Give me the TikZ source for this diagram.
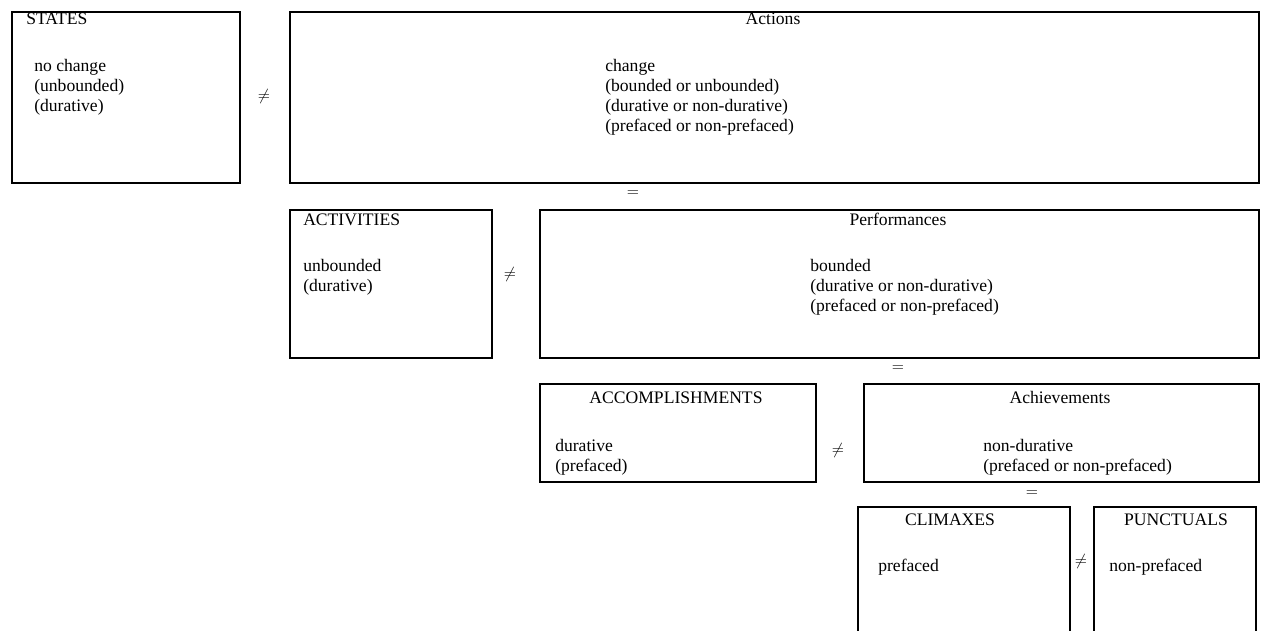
\documentclass[tikz,border=0pt]{standalone}
\usepackage{fontspec}
\setmainfont{Liberation Serif}
\usetikzlibrary{positioning}

\begin{document}
\begin{tikzpicture}[x=0.75pt, y=-0.75pt,
		box/.style={draw, line width=1.3pt, anchor=north west, inner sep=0pt},
		txt/.style={inner sep=0pt, anchor=base west, font=\fontsize{13.2}{15}\selectfont},
		lines/.style={inner sep=0pt, anchor=north west, align=left, font=\fontsize{13.2}{15}\selectfont},
		ttl/.style={inner sep=0pt, anchor=base, font=\fontsize{13.2}{15}\selectfont},
		rel/.style={inner sep=0pt, font=\fontsize{13.2}{15}\selectfont}]
		\clip (0, 0) rectangle (1264, 631);

		% boxes
		\node[box, minimum width=171pt, minimum height=128.25pt] (states) at (11, 11) {};
		\node[box, minimum width=726.75pt, minimum height=128.25pt] (actions) at (289, 11) {};
		\node[box, minimum width=151.5pt, minimum height=111pt] (activities) at (289, 209) {};
		\node[box, minimum width=539.25pt, minimum height=111pt] (performances) at (539, 209) {};
		\node[box, minimum width=207pt, minimum height=73.5pt] (accomplishments) at (539, 383) {};
		\node[box, minimum width=296.25pt, minimum height=73.5pt] (achievements) at (863, 383) {};
		\node[box, minimum width=159pt, minimum height=105pt] (climaxes) at (857, 506) {};
		\node[box, minimum width=121.5pt, minimum height=105pt] (punctuals) at (1093, 506) {};

		% titles
		\node[txt] (statesT) at (26, 25) {STATES};
		\node[ttl] (actionsT) at (773, 25) {Actions};
		\node[txt] (activitiesT) at (303, 226) {ACTIVITIES};
		\node[ttl] (performancesT) at (898, 226) {Performances};
		\node[ttl] (accomplishmentsT) at (676, 403) {ACCOMPLISHMENTS};
		\node[ttl] (achievementsT) at (1060, 403) {Achievements};
		\node[ttl] (climaxesT) at (950, 525) {CLIMAXES};
		\node[ttl] (punctualsT) at (1176, 525) {PUNCTUALS};

		% features
		\node[lines] (statesF) at (34, 59) {no change\\(unbounded)\\(durative)};
		\node[lines] (actionsF) at (605, 59) {change\\(bounded or unbounded)\\(durative or non-durative)\\(prefaced or non-prefaced)};
		\node[lines] (activitiesF) at (303, 259) {unbounded\\(durative)};
		\node[lines] (performancesF) at (810, 259) {bounded\\(durative or non-durative)\\(prefaced or non-prefaced)};
		\node[lines] (accomplishmentsF) at (555, 439) {durative\\(prefaced)};
		\node[lines] (achievementsF) at (983, 439) {non-durative\\(prefaced or non-prefaced)};
		\node[txt] (climaxesF) at (878, 571) {prefaced};
		\node[txt] (punctualsF) at (1109, 571) {non-prefaced};

		% relations
		\node[rel] (neqA) at (264, 97) {$\neq$};
		\node[rel] (eqA) at (633, 194) {$=$};
		\node[rel] (neqB) at (510, 274) {$\neq$};
		\node[rel] (eqB) at (898, 369) {$=$};
		\node[rel] (neqC) at (838, 450) {$\neq$};
		\node[rel] (eqC) at (1032, 494) {$=$};
		\node[rel] (neqD) at (1081, 561) {$\neq$};
	\end{tikzpicture}
\end{document}
